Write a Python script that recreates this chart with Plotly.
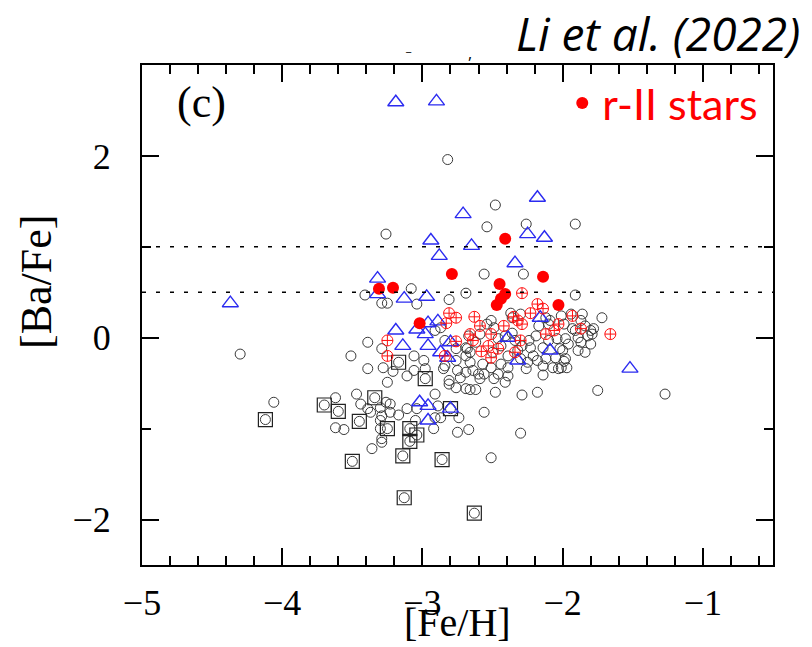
import plotly.graph_objects as go

# --- [Fe/H], [Ba/Fe] for the comparison sample (open circles) ---
circ_feh = [
    -2.82, -3.26, -2.48, -2.54, -2.26, -1.91, -2.56, -2.28, -2.69, -2.81,
    -1.91, -3.41, -3.29, -3.25, -3.08, -3.04, -4.30, -4.06, -1.27, -1.75,
    -1.72, -2.30, -2.51, -2.56, -2.74, -2.75, -2.67, -2.48, -2.29, -2.18,
    -2.62, -2.66, -2.69, -2.59, -2.49, -2.41, -2.76, -2.81, -2.73, -2.60,
    -2.46, -2.39, -2.14, -2.03, -1.97, -1.99,
    -3.62, -3.47, -3.44, -3.62, -3.56, -3.39, -3.37, -3.30, -3.29, -3.23,
    -3.23, -3.17, -3.11, -3.04, -3.30, -3.30, -3.29, -3.29, -3.36, -3.26,
    -3.25, -3.11, -2.91, -2.89, -2.91, -2.92, -2.87, -3.05, -3.39, -3.29,
    -3.51, -3.39, -3.28, -3.21, -3.06, -2.99, -2.98, -3.06, -2.91, -2.87,
    -2.84, -2.85, -2.81, -2.84, -2.76, -2.75, -2.69, -2.68,
    -2.37, -2.36, -2.30, -2.12, -2.09, -2.01, -1.99, -1.86, -1.84, -1.89,
    -1.82, -1.80, -1.89, -1.84, -2.62, -2.66, -2.66, -2.64, -2.57, -2.54,
    -2.51, -2.49, -2.41, -2.36, -2.34, -2.44, -2.50, -2.39, -2.44, -2.39,
    -2.51, -2.29, -2.23, -2.21, -2.25, -2.18, -2.12, -2.05, -2.00, -1.98,
    -2.07, -2.01, -2.14, -2.24, -2.19, -2.04, -1.98, -2.10, -1.93, -2.67,
    -2.69, -1.94, -1.80, -1.78, -1.79, -1.87, -2.02, -2.14, -2.30, -1.87,
    -2.69, -2.56, -2.32, -2.26, -1.91, -1.96, -2.10, -2.17, -2.46, -2.59,
    -2.76,
]
circ_bafe = [
    1.96, 1.14, 1.46, 1.22, 1.25, 1.25, 0.70, 0.70, 0.49, 0.42,
    0.47, 0.47, 0.38, 0.38, 0.54, 0.37, -0.18, -0.71, -0.62, -0.58,
    0.22, -1.05, -1.32, -0.82, -0.88, -1.04, -1.01, -0.60, -0.63, -0.60,
    -0.57, -0.57, -0.56, -0.45, -0.45, -0.49, -0.55, -0.47, -0.44, -0.40,
    -0.40, -0.42, -0.41, -0.34, -0.33, -0.26,
    -0.66, -0.62, -0.73, -0.99, -1.01, -0.78, -0.82, -0.77, -0.86, -0.73,
    -0.82, -0.85, -0.78, -0.78, -0.91, -1.00, -1.11, -1.15, -1.22, -0.71,
    -0.49, -0.42, -0.62, -0.75, -0.88, -1.00, -0.88, -0.91, -0.05, -0.12,
    -0.20, -0.34, -0.33, -0.37, -0.20, -0.25, -0.34, -0.36, 0.08, 0.11,
    -0.03, -0.34, -0.51, -0.31, -0.25, -0.36, -0.20, -0.12,
    0.27, 0.22, 0.26, 0.22, 0.19, 0.24, 0.15, 0.26, 0.13, 0.00,
    0.02, -0.07, -0.14, -0.16, -0.05, -0.16, -0.27, -0.36, -0.29, 0.15,
    0.19, 0.11, 0.02, 0.05, -0.03, -0.09, -0.16, -0.20, -0.29, -0.33,
    -0.33, -0.09, -0.11, -0.20, -0.27, -0.25, -0.23, -0.22, -0.14, -0.23,
    -0.33, -0.33, -0.31, -0.03, 0.02, -0.01, -0.01, 0.15, 0.10, 0.02,
    -0.11, 0.26, 0.08, 0.10, 0.04, -0.05, -0.12, -0.11, -0.23, 0.19,
    -0.38, -0.40, -0.14, -0.34, 0.08, -0.07, -0.03, 0.13, -0.01, 0.04,
    -0.12,
]

# --- stars marked with open squares ---
sq_feh = [-3.17, -2.98, -3.34, -3.70, -3.60, -4.12, -3.45, -3.25, -3.09,
          -3.04, -3.09, -3.50, -3.14, -2.86, -3.13, -2.80, -2.63]
sq_bafe = [-0.27, -0.45, -0.66, -0.74, -0.81, -0.90, -0.92, -1.00, -1.00,
           -1.07, -1.14, -1.36, -1.30, -1.34, -1.76, -0.78, -1.93]

# --- open triangles ---
tri_feh = [-4.37, -3.19, -2.90, -2.94, -2.88, -3.32, -3.32, -3.13, -2.97,
           -2.71, -2.18, -2.65, -2.25, -2.13, -2.34, -3.19, -3.04, -2.96,
           -2.89, -2.98, -3.14, -2.96, -2.80, -2.87, -2.82, -2.16, -2.39,
           -2.09, -2.32, -1.52, -2.80, -3.02, -2.96, -2.96]
tri_bafe = [0.38, 2.59, 2.60, 1.07, 0.90, 0.65, 0.48, 0.43, 0.45,
            1.36, 1.54, 1.01, 1.14, 1.10, 0.82, 0.08, 0.09, 0.16,
            0.18, 0.04, -0.09, -0.09, -0.05, -0.16, -0.22, 0.22, 0.00,
            -0.14, -0.25, -0.34, -0.78, -0.71, -0.75, -0.91]

# --- r-I stars (circled crosses) ---
ri_feh = [-3.25, -3.25, -2.83, -2.81, -2.76, -2.76, -2.66, -2.64, -2.63,
          -2.59, -2.58, -2.53, -2.51, -2.51, -2.46, -2.42, -2.35, -2.32,
          -2.29, -2.29, -2.23, -2.18, -2.14, -2.30, -2.34, -2.12, -2.06,
          -2.03, -1.93, -1.87, -1.66, -2.84]
ri_bafe = [-0.03, -0.20, 0.16, 0.27, 0.22, -0.04, 0.04, -0.03, 0.23,
           0.13, -0.15, -0.09, 0.04, -0.22, -0.12, 0.13, 0.23, 0.19,
           0.15, 0.49, 0.27, 0.37, 0.32, -0.03, -0.16, 0.04, 0.08,
           0.15, 0.24, 0.10, 0.04, -0.20]

# --- r-II stars (filled) ---
rii_feh = [-3.31, -3.21, -3.02, -2.79, -2.41, -2.14, -2.45, -2.41, -2.44,
           -2.47, -2.03]
rii_bafe = [0.54, 0.55, 0.16, 0.70, 1.09, 0.67, 0.59, 0.48, 0.43,
            0.36, 0.36]

# r-process enhancement thresholds
thresholds = [1.0, 0.5]

x_range = [-5.0, -0.5]
y_range = [-2.5, 3.0]

serif = "Liberation Serif"

fig = go.Figure()

fig.add_trace(go.Scatter(
    x=circ_feh + sq_feh, y=circ_bafe + sq_bafe, mode="markers",
    marker=dict(symbol="circle-open", size=10, color="#3a3a3a",
                line=dict(width=1, color="#3a3a3a")),
    showlegend=False, hoverinfo="skip"))

fig.add_trace(go.Scatter(
    x=sq_feh, y=sq_bafe, mode="markers",
    marker=dict(symbol="square-open", size=14, color="#222222",
                line=dict(width=1.2, color="#222222")),
    showlegend=False, hoverinfo="skip"))

fig.add_trace(go.Scatter(
    x=tri_feh, y=tri_bafe, mode="markers",
    marker=dict(symbol="triangle-up-open", size=14, color="#2b2bf0",
                line=dict(width=1.4, color="#2b2bf0")),
    showlegend=False, hoverinfo="skip"))

fig.add_trace(go.Scatter(
    x=ri_feh, y=ri_bafe, mode="markers",
    marker=dict(symbol="circle-cross-open", size=11, color="#ff1010",
                line=dict(width=1, color="#ff1010")),
    showlegend=False, hoverinfo="skip"))

fig.add_trace(go.Scatter(
    x=rii_feh, y=rii_bafe, mode="markers", name="r-II stars",
    marker=dict(symbol="circle", size=12, color="#ff0000",
                line=dict(width=0)),
    showlegend=True, hoverinfo="skip"))

for yv in thresholds:
    fig.add_hline(y=yv, line=dict(color="black", width=1.6, dash="4px,10px"))

axis_common = dict(
    showline=True, linecolor="black", linewidth=2, mirror="allticks",
    ticks="inside", ticklen=17, tickwidth=2, tickcolor="black",
    showgrid=False, zeroline=False,
    tickfont=dict(family=serif, size=36, color="black"),
)

fig.update_xaxes(
    range=x_range, tick0=-5, dtick=1, ticklabelstandoff=5,
    minor=dict(ticks="inside", dtick=0.2, tick0=-5, ticklen=9,
               tickwidth=1.5, tickcolor="black", showgrid=False),
    **axis_common)
fig.update_yaxes(
    range=y_range, tick0=0, dtick=2, ticklabelstandoff=22,
    minor=dict(ticks="inside", dtick=1, tick0=0, ticklen=9,
               tickwidth=1.5, tickcolor="black", showgrid=False),
    **axis_common)

fig.add_annotation(text="[Fe/H]", xref="paper", yref="paper", x=0.5, y=-0.164,
                   xanchor="center", yanchor="bottom", showarrow=False,
                   font=dict(family=serif, size=40, color="black"))
fig.add_annotation(text="[Ba/Fe]", xref="paper", yref="paper", x=-0.168, y=0.566,
                   xanchor="center", yanchor="middle", showarrow=False,
                   textangle=-90,
                   font=dict(family=serif, size=44, color="black"))
fig.add_annotation(text="(c)", xref="paper", yref="paper", x=0.095, y=0.924,
                   xanchor="center", yanchor="middle", showarrow=False,
                   font=dict(family=serif, size=44, color="black"))
fig.add_annotation(text="<i>Li et al. (2022)</i>", xref="paper", yref="paper",
                   x=1.046, y=1.064, xanchor="right", yanchor="middle",
                   showarrow=False,
                   font=dict(family="Open Sans", size=46, color="black"))
# small stray marks left of the citation
fig.add_annotation(text="_", xref="paper", yref="paper", x=0.423, y=1.058,
                   showarrow=False, font=dict(family="Open Sans", size=12, color="black"))
fig.add_annotation(text=",", xref="paper", yref="paper", x=0.52, y=1.05,
                   showarrow=False, font=dict(family="Open Sans", size=16, color="black"))

fig.update_layout(
    width=812, height=647,
    margin=dict(l=142, r=39, t=65, b=82),
    plot_bgcolor="white", paper_bgcolor="white",
    legend=dict(x=0.666, y=0.924, xanchor="left", yanchor="middle",
                bgcolor="rgba(0,0,0,0)", borderwidth=0,
                font=dict(family="Lato", size=43, color="#ff0000"),
                itemsizing="trace"),
)

fig.write_html("out.html")
